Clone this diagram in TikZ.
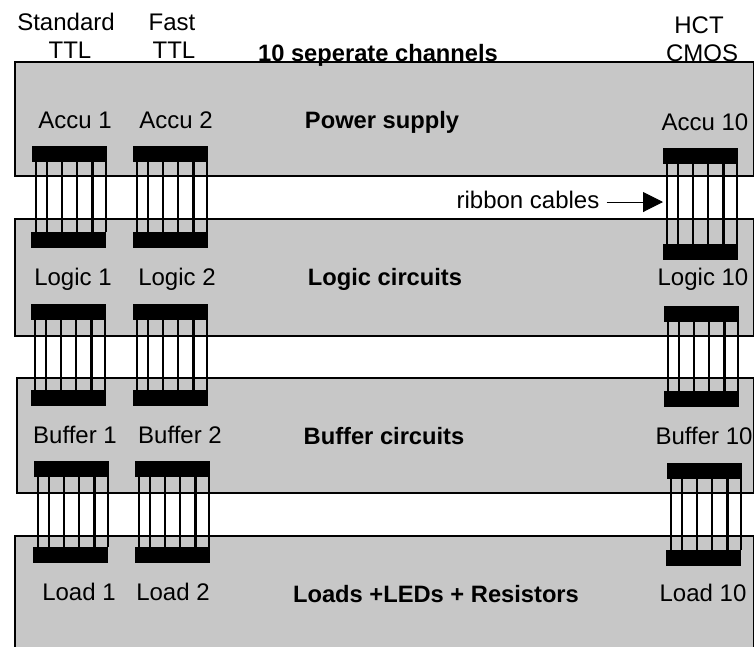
\documentclass[tikz,border=0pt]{standalone}
\usepackage{fontspec}
\setmainfont{Liberation Sans}
\usetikzlibrary{positioning,calc,arrows.meta}
\tikzset{
    panel/.style={draw=black, line width=2pt, fill=black!22, anchor=north west, inner sep=0pt},
    lbl/.style={inner sep=0pt, text height=16.5pt, text depth=0pt, font=\fontsize{24pt}{26pt}\selectfont},
    title/.style={lbl, font=\fontsize{23.7pt}{26pt}\selectfont\bfseries},
    bar/.style={fill=black, anchor=north west, inner sep=0pt, minimum width=75pt, minimum height=16pt},
    wire/.style={line width=2.4pt}
}
\begin{document}
\begin{tikzpicture}[x=1pt, y=-1pt]
    \useasboundingbox (0,0) rectangle (754,646);
    \foreach \name/\x/\y/\w/\h in {supply/14/61/739/114, logic/14/218/739/117, buffer/16/377/737/115, load/14/535/739/125}
        \node[panel, minimum width=\w pt, minimum height=\h pt] (\name) at (\x,\y) {};

    \foreach \name/\x/\y in {
        accuA/32/146, accuB/133/146, accuC/663/148,
        plugA/31/232, plugB/133/232, plugC/663/244,
        logicA/31/304, logicB/133/304, logicC/664/306,
        socketA/31/390, socketB/133/390, socketC/664/391,
        bufferA/34/461, bufferB/135/461, bufferC/667/463,
        loadA/33/547, loadB/135/547, loadC/666/550}
        \node[bar] (\name) at (\x,\y) {};

    \foreach \a/\b in {accuA/plugA, accuB/plugB, accuC/plugC, logicA/socketA, logicB/socketB, logicC/socketC, bufferA/loadA, bufferB/loadB, bufferC/loadC}
        \foreach \f in {0.05, 0.2, 0.4, 0.6, 0.8, 0.98} {
            \coordinate (w) at ($(\a.south west)!\f!(\a.south east)$);
            \draw[wire] (w) -- (w |- \b.north);
        }

    \foreach \name/\x/\y/\txt in {
        std/66/22/Standard, stdb/70/50/TTL, fast/172/22/Fast, fastb/174/50/TTL,
        hct/699/25/HCT, cmos/702/53/CMOS,
        accua/75/120/Accu 1, accub/176/120/Accu 2, accuc/705/122/Accu 10,
        logica/73/277/Logic 1, logicb/177/277/Logic 2, logicc/703/277/Logic 10,
        buffera/75/435/Buffer 1, bufferb/180/435/Buffer 2, bufferc/704/436/Buffer 10,
        loada/79/592/Load 1, loadb/173/592/Load 2, loadc/703/593/Load 10,
        ribbon/528/200/ribbon cables}
        \node[lbl] (\name) at (\x,\y) {\txt};

    \foreach \name/\x/\y/\txt in {
        channels/378/53/10 seperate channels, power/382/120/Power supply,
        circuits/385/277/Logic circuits, drivers/384/436/Buffer circuits,
        loads/436/594/Loads +LEDs + Resistors}
        \node[title] (\name) at (\x,\y) {\txt};

    \draw[-{Triangle[length=20pt,width=20pt]}, line width=1pt, shorten <=7pt] (ribbon.east |- 0,202) -- (accuC.west |- 0,202);
\end{tikzpicture}
\end{document}
